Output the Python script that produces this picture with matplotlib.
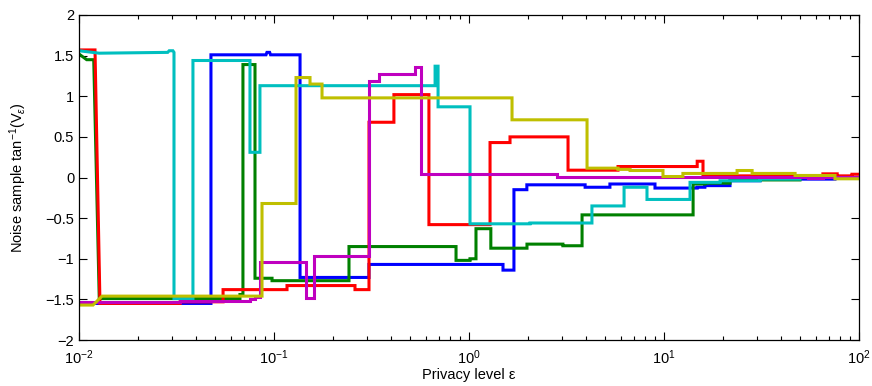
import matplotlib
matplotlib.use("Agg")
import matplotlib.pyplot as plt
import numpy as np
from matplotlib.ticker import LogLocator, NullFormatter, FixedLocator

plt.rcParams['font.family'] = ['Liberation Sans', 'DejaVu Sans']
plt.rcParams['mathtext.fontset'] = 'custom'
plt.rcParams['mathtext.rm'] = 'Liberation Sans'
plt.rcParams['mathtext.it'] = 'Liberation Sans:italic'

# ---- data: vertices (eps, value) of each noise trajectory ----
eps_blue = [0.01, 0.0475, 0.0475, 0.091, 0.092, 0.095, 0.096, 0.136, 0.136, 0.307, 0.307, 1.494, 1.494,
            1.70, 1.70, 1.98, 1.98, 3.94, 3.94, 5.28, 5.28, 8.99, 8.99, 14.8, 14.8, 16.2, 16.2, 21.8, 21.8,
            31.1, 31.1, 75.3, 75.3, 100]
val_blue = [-1.55, -1.55, 1.51, 1.51, 1.54, 1.54, 1.51, 1.51, -1.23, -1.23, -1.07, -1.07, -1.14,
            -1.14, -0.15, -0.15, -0.09, -0.09, -0.12, -0.12, -0.08, -0.08, -0.13, -0.13, -0.12, -0.12, -0.10, -0.10, -0.04,
            -0.04, -0.02, -0.02, 0.0, 0.0]

eps_green = [0.01, 0.01095, 0.0119, 0.0127, 0.0669, 0.0669, 0.0693, 0.0693, 0.0799, 0.0799, 0.0977, 0.0977,
             0.2424, 0.2424, 0.858, 0.858, 1.012, 1.012, 1.086, 1.086, 1.294, 1.294, 1.983, 1.983,
             3.03, 3.03, 3.80, 3.80, 14.1, 14.1, 16.2, 16.2, 21.8, 21.8, 49.8, 49.8, 100]
val_green = [1.52, 1.45, 1.45, -1.49, -1.49, -1.44, -1.44, 1.39, 1.39, -1.24, -1.24, -1.27,
             -1.27, -0.85, -0.85, -1.02, -1.02, -1.00, -1.00, -0.63, -0.63, -0.87, -0.87, -0.82,
             -0.82, -0.84, -0.84, -0.46, -0.46, -0.08, -0.08, -0.07, -0.07, -0.03, -0.03, 0.0, 0.0]

eps_red = [0.01, 0.01208, 0.01281, 0.0330, 0.0330, 0.0548, 0.0548, 0.1166, 0.1166, 0.2602, 0.2602, 0.307, 0.307,
           0.412, 0.412, 0.623, 0.623, 1.282, 1.282, 1.623, 1.623, 3.22, 3.22, 5.81, 5.81, 14.8, 14.8,
           15.85, 15.85, 65.3, 65.3, 77.3, 77.3, 92.0, 92.0, 100]
val_red = [1.57, 1.57, -1.55, -1.55, -1.53, -1.53, -1.38, -1.38, -1.33, -1.33, -1.38, -1.38, 0.68,
           0.68, 1.02, 1.02, -0.58, -0.58, 0.43, 0.43, 0.50, 0.50, 0.09, 0.09, 0.135, 0.135, 0.20,
           0.20, 0.02, 0.02, 0.045, 0.045, 0.02, 0.02, 0.04, 0.04]

eps_cyan = [0.01, 0.0127, 0.0285, 0.0290, 0.0303, 0.0307, 0.0307, 0.0384, 0.0384, 0.0753, 0.0753, 0.0847, 0.0847,
            0.670, 0.670, 0.694, 0.694, 1.012, 1.012, 2.055, 2.055, 4.27, 4.27, 6.24, 6.24, 8.18, 8.18,
            13.6, 13.6, 19.4, 19.4, 31.1, 31.1, 49.8, 49.8, 100]
val_cyan = [1.56, 1.53, 1.54, 1.56, 1.56, 1.54, -1.49, -1.49, 1.44, 1.44, 0.31, 0.31, 1.13,
            1.13, 1.37, 1.37, 0.87, 0.87, -0.57, -0.57, -0.56, -0.56, -0.35, -0.35, -0.12, -0.12, -0.27,
            -0.27, -0.06, -0.06, -0.04, -0.04, -0.02, -0.02, 0.0, 0.0]

eps_magenta = [0.01, 0.0330, 0.0330, 0.0753, 0.0753, 0.0799, 0.0799, 0.0847, 0.0847, 0.1459, 0.1459, 0.1603,
               0.1603, 0.307, 0.307, 0.3455, 0.3455, 0.528, 0.528, 0.567, 0.567, 2.826, 2.826, 55.0,
               55.0, 65.3, 65.3, 100]
val_magenta = [-1.53, -1.53, -1.52, -1.52, -1.49, -1.49, -1.47, -1.47, -1.04, -1.04, -1.48, -1.48,
               -0.96, -0.96, 1.19, 1.19, 1.28, 1.28, 1.36, 1.36, 0.045, 0.045, 0.005, 0.005,
               -0.01, -0.01, 0.005, 0.005]

eps_yellow = [0.01, 0.0118, 0.01312, 0.0868, 0.0868, 0.1297, 0.1297, 0.153, 0.153, 0.1763, 0.1763, 1.662, 1.662,
              4.03, 4.03, 5.81, 5.81, 6.70, 6.70, 9.88, 9.88, 12.5, 12.5, 23.7, 23.7, 28.3, 28.3,
              47.0, 47.0, 75.3, 75.3, 100]
val_yellow = [-1.57, -1.57, -1.46, -1.46, -0.32, -0.32, 1.23, 1.23, 1.15, 1.15, 0.98, 0.98, 0.71,
              0.71, 0.115, 0.115, 0.10, 0.10, 0.086, 0.086, 0.012, 0.012, 0.05, 0.05, 0.086, 0.086, 0.05,
              0.05, 0.025, 0.025, -0.016, -0.016]

series = [
    (eps_blue, val_blue, (0, 0, 1)),
    (eps_green, val_green, (0, 0.5, 0)),
    (eps_red, val_red, (1, 0, 0)),
    (eps_cyan, val_cyan, (0, 0.75, 0.75)),
    (eps_magenta, val_magenta, (0.75, 0, 0.75)),
    (eps_yellow, val_yellow, (0.75, 0.75, 0)),
]

yticks = [-2, -1.5, -1, -0.5, 0, 0.5, 1, 1.5, 2]
yticklabels = ['\u22122', '\u22121.5', '\u22121', '\u22120.5', '0', '0.5', '1', '1.5', '2']

fig = plt.figure(figsize=(8.72, 3.86), dpi=100)
ax = fig.add_axes([79 / 872, 1 - 340 / 386, 780 / 872, 325 / 386])

for x, y, c in series:
    ax.plot(x, y, color=c, linewidth=2.2, solid_joinstyle='miter')

ax.set_xscale('log')
ax.set_xlim(1e-2, 1e2)
ax.set_ylim(-2, 2)
ax.set_yticks(yticks)
ax.set_yticklabels(yticklabels)
ax.xaxis.set_major_locator(FixedLocator([1e-2, 1e-1, 1, 10, 100]))
ax.set_xticklabels(['$10^{-2}$', '$10^{-1}$', '$10^{0}$', '$10^{1}$', '$10^{2}$'])
ax.xaxis.set_minor_locator(LogLocator(base=10, subs=np.arange(2, 10), numticks=20))
ax.xaxis.set_minor_formatter(NullFormatter())

ax.tick_params(which='both', direction='in', top=True, right=True, labelsize=10.5, width=0.8)
ax.tick_params(which='major', length=6)
ax.tick_params(which='minor', length=3)
ax.tick_params(axis='x', which='major', pad=6)
for s in ax.spines.values():
    s.set_linewidth(0.9)

ax.set_xlabel('Privacy level \u03b5', fontsize=10.5, labelpad=1)
ax.set_ylabel('Noise sample tan$^{-1}$(V$_{\u03b5}$)', fontsize=10.5, labelpad=12)

fig.savefig('out.png', dpi=100)
